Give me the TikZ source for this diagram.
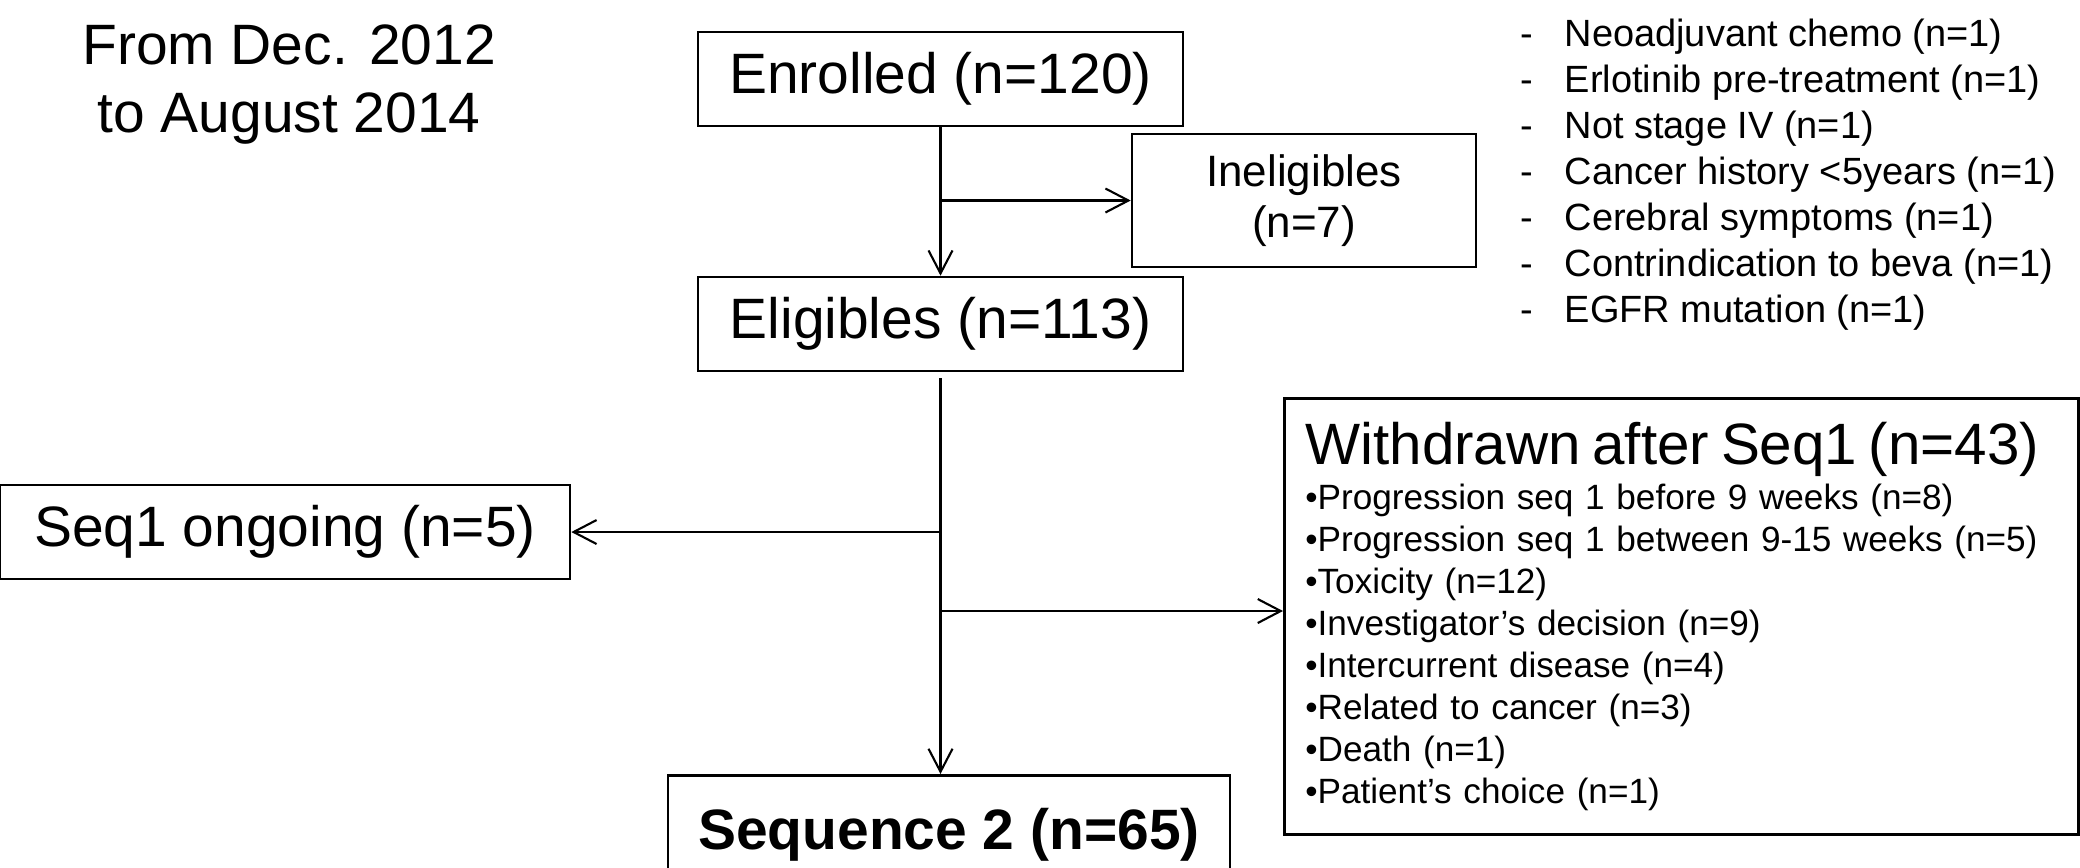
\documentclass[tikz,border=0pt]{standalone}
\usepackage{fontspec}
\setmainfont{Liberation Sans}
\usetikzlibrary{positioning,arrows.meta}
\newcommand{\flowbig}{\fontsize{16.2pt}{19.4pt}\selectfont}
\newcommand{\flowmid}{\fontsize{10pt}{11.95pt}\selectfont}
\newcommand{\dashitem}{\makebox[4.4mm][l]{-}}

\begin{document}
\begin{tikzpicture}[x=0.1mm,y=-0.1mm]
            \useasboundingbox (0,0) rectangle (2080,867);

            \node[align=center,font=\fontsize{16.2pt}{19.35pt}\selectfont] (period) at (289,84.5) {From Dec. 2012\\to August 2014};

            \node[anchor=north west,inner sep=0pt,align=left,font=\fontsize{10.8pt}{13.1pt}\selectfont] (excl) at (1520,18)
                {\dashitem Neoadjuvant chemo (n=1)\\
                 \dashitem Erlotinib pre-treatment (n=1)\\
                 \dashitem Not stage IV (n=1)\\
                 \dashitem Cancer history <5years (n=1)\\
                 \dashitem Cerebral symptoms (n=1)\\
                 \dashitem Contrindication to beva (n=1)\\
                 \dashitem EGFR mutation (n=1)};

            \begin{scope}[every node/.style={rectangle,draw,line width=0.75pt,inner sep=0pt,minimum height=9.4mm,font=\flowbig}]
                \node[minimum width=48.5mm] (enrolled) at (940.5,79) {Enrolled (n=120)};
                \node[minimum width=34.4mm,minimum height=13.3mm,align=center,font=\fontsize{12.5pt}{14.5pt}\selectfont] (inelig) at (1304,200.5) {Ineligibles\\(n=7)};
                \node[minimum width=48.5mm] (elig) at (940.5,324) {Eligibles (n=113)};
                \node[minimum width=57mm] (ongoing) at (285,532) {Seq1 ongoing (n=5)};
                \node[anchor=north west,text width=75.2mm,inner xsep=2.1mm,minimum height=43.6mm,align=left,font=\flowmid] (withdrawn) at (1283,397)
                    {{\fontsize{16.6pt}{19.9pt}\selectfont Withdrawn after Seq1 (n=43)}\\[0.3mm]
                     •Progression seq 1 before 9 weeks (n=8)\\
                     •Progression seq 1 between 9-15 weeks (n=5)\\
                     •Toxicity (n=12)\\
                     •Investigator’s decision (n=9)\\
                     •Intercurrent disease (n=4)\\
                     •Related to cancer (n=3)\\
                     •Death (n=1)\\
                     •Patient’s choice (n=1)};
                \node[anchor=north,minimum width=56.2mm,minimum height=11.8mm,font=\flowbig\bfseries] (seqtwo) at (949,774) {Sequence 2 (n=65)};
            \end{scope}

            \coordinate (split) at (940.5,611);

            \begin{scope}[>={Straight Barb[length=2.3mm,width=2.4mm]},
                          every edge/.style={draw=black,line width=0.6pt}]
                \path [->] (enrolled.south) edge (elig.north);
                \path [->] (enrolled.south |- inelig.west) edge (inelig.west);
                \path [->] ([yshift=-0.6mm]elig.south) edge (elig.south |- seqtwo.north);
                \path [->] (elig.south |- ongoing.east) edge (ongoing.east);
                \path [->] (split) edge (split -| withdrawn.west);
            \end{scope}
        \end{tikzpicture}
\end{document}
